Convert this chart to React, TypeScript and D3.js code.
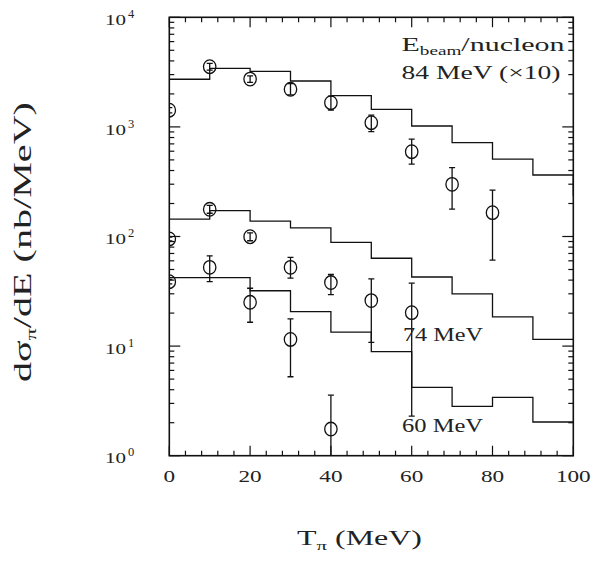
import React, { useEffect, useRef } from "react";
import * as d3 from "d3";

// histogram bin edges (MeV) and calculated curves
const binEdges = [0, 10, 20, 30, 40, 50, 60, 70, 80, 90, 100, 110];
const model84 = [2720, 3425, 3210, 2623, 1928, 1448, 1019, 718, 509, 364, 239];
const model74 = [144, 172, 138, 120, 88.5, 63.3, 42.7, 29.9, 18.5, 11.5];
const model60 = [42.1, 42.1, 32.0, 20.6, 13.4, 8.9, 4.21, 2.82, 3.41, 2.03];

// measured points with error bars
const tpi84 = [0, 10, 20, 30, 40, 50, 60, 70, 80];
const data84 = [1420, 3540, 2730, 2205, 1663, 1092, 594, 299, 165];
const lo84 = [1340, 3300, 2550, 1960, 1420, 905, 458, 178, 61];
const hi84 = [1500, 3800, 2920, 2480, 1910, 1280, 775, 425, 265];

const tpi74 = [0, 10, 20, 30, 40, 50, 60];
const data74 = [95, 177, 99.5, 52.3, 38, 26, 20.2];
const lo74 = [91, 163, 91.5, 41.7, 29.5, 10.8, 2.3];
const hi74 = [99, 192, 108, 64.5, 45, 41, 37.5];

const tpi60 = [0, 10, 20, 30, 40];
const data60 = [38.7, 52.3, 25.1, 11.5, 1.75];
const lo60 = [37, 38.7, 16.5, 5.25, 0.9];
const hi60 = [40.5, 66.6, 33.7, 17.7, 3.57];

const xTicks = [0, 20, 40, 60, 80, 100];
const yExponents = [0, 1, 2, 3, 4];

const FONT = "'Liberation Serif', serif";

const App = () => {
  const ref = useRef<SVGSVGElement>(null);

  useEffect(() => {
    const svg = d3.select(ref.current);
    svg.selectAll("*").remove();

    const left = 169.3, right = 573.3, top = 17.3, bottom = 455.7;

    const x = d3.scaleLinear().domain([0, 100]).range([left, right]);
    const y = d3.scaleLog().domain([1, 1e4]).range([bottom, top]);

    svg
      .append("defs")
      .append("clipPath")
      .attr("id", "plot-clip")
      .append("rect")
      .attr("x", left)
      .attr("y", top)
      .attr("width", right - left)
      .attr("height", bottom - top);

    // frame
    svg
      .append("rect")
      .attr("x", left)
      .attr("y", top)
      .attr("width", right - left)
      .attr("height", bottom - top)
      .attr("fill", "none")
      .attr("stroke", "#111")
      .attr("stroke-width", 1.6);

    // x ticks, top and bottom, pointing inward
    const xMinor = d3.range(0, 101, 4).filter((v) => v % 20 !== 0);
    const ticks = svg.append("g").attr("stroke", "#111").attr("stroke-width", 1.2);
    xTicks.concat(xMinor).forEach((v) => {
      const len = v % 20 === 0 ? 10 : 5;
      ticks.append("line").attr("x1", x(v)).attr("x2", x(v)).attr("y1", bottom).attr("y2", bottom - len);
      ticks.append("line").attr("x1", x(v)).attr("x2", x(v)).attr("y1", top).attr("y2", top + len);
    });

    // y ticks, left and right
    yExponents.forEach((e) => {
      const major = Math.pow(10, e);
      ticks.append("line").attr("x1", left).attr("x2", left + 11).attr("y1", y(major)).attr("y2", y(major));
      ticks.append("line").attr("x1", right).attr("x2", right - 11).attr("y1", y(major)).attr("y2", y(major));
      if (e < 4) {
        for (let m = 2; m <= 9; m++) {
          const v = m * major;
          ticks.append("line").attr("x1", left).attr("x2", left + 5).attr("y1", y(v)).attr("y2", y(v));
          ticks.append("line").attr("x1", right).attr("x2", right - 5).attr("y1", y(v)).attr("y2", y(v));
        }
      }
    });

    // x tick labels
    xTicks.forEach((v) => {
      const s = String(v);
      svg
        .append("text")
        .attr("x", x(v))
        .attr("y", 482)
        .attr("text-anchor", "middle")
        .attr("font-family", FONT)
        .attr("font-size", 17)
        .attr("textLength", s.length * 11.6)
        .attr("lengthAdjust", "spacingAndGlyphs")
        .attr("fill", "#222")
        .text(s);
    });

    // y tick labels 10^n
    yExponents.forEach((e) => {
      const t = svg
        .append("text")
        .attr("x", 105)
        .attr("y", y(Math.pow(10, e)) + 7.7)
        .attr("font-family", FONT)
        .attr("font-size", 15)
        .attr("fill", "#222");
      t.append("tspan").text("10").attr("textLength", 21).attr("lengthAdjust", "spacingAndGlyphs");
      t.append("tspan").attr("dx", 2).attr("dy", -7).attr("font-size", 12.5).text(String(e));
    });

    // histograms
    const step = d3
      .line<[number, number]>()
      .x((d) => x(d[0]))
      .y((d) => y(d[1]))
      .curve(d3.curveStepAfter);

    const plot = svg.append("g").attr("clip-path", "url(#plot-clip)");
    [model84, model74, model60].forEach((vals) => {
      const pts: [number, number][] = vals.map((v, i) => [binEdges[i], v]);
      pts.push([binEdges[vals.length], vals[vals.length - 1]]);
      plot
        .append("path")
        .attr("d", step(pts))
        .attr("fill", "none")
        .attr("stroke", "#111")
        .attr("stroke-width", 1.3);
    });

    // data points
    const series = [
      { t: tpi84, v: data84, lo: lo84, hi: hi84 },
      { t: tpi74, v: data74, lo: lo74, hi: hi74 },
      { t: tpi60, v: data60, lo: lo60, hi: hi60 },
    ];
    series.forEach((s) => {
      s.t.forEach((tv, i) => {
        const cx = x(tv);
        const g = plot.append("g").attr("stroke", "#111").attr("fill", "none").attr("stroke-width", 1.3);
        g.append("line").attr("x1", cx).attr("x2", cx).attr("y1", y(s.lo[i])).attr("y2", y(s.hi[i]));
        g.append("line").attr("x1", cx - 3).attr("x2", cx + 3).attr("y1", y(s.lo[i])).attr("y2", y(s.lo[i]));
        g.append("line").attr("x1", cx - 3).attr("x2", cx + 3).attr("y1", y(s.hi[i])).attr("y2", y(s.hi[i]));
        g.append("ellipse").attr("cx", cx).attr("cy", y(s.v[i])).attr("rx", 6.2).attr("ry", 6.8);
      });
    });

    // annotations, stretched to the widths of the original lettering
    const legend = svg
      .append("text")
      .attr("x", 401.5)
      .attr("y", 50.7)
      .attr("font-family", FONT)
      .attr("font-size", 19.5)
      .attr("fill", "#222");
    legend.append("tspan").text("E");
    legend.append("tspan").attr("dy", 4).attr("font-size", 12.5).text("beam");
    legend.append("tspan").attr("dy", -4).text("/nucleon");
    legend.attr("textLength", 163).attr("lengthAdjust", "spacingAndGlyphs");

    const labels = [
      { s: "84 MeV (\u00d710)", x: 401.5, y: 79.3, w: 159 },
      { s: "74 MeV", x: 403, y: 341, w: 80 },
      { s: "60 MeV", x: 402, y: 432, w: 81 },
    ];
    labels.forEach((l) => {
      svg
        .append("text")
        .attr("x", l.x)
        .attr("y", l.y)
        .attr("font-family", FONT)
        .attr("font-size", 19.5)
        .attr("textLength", l.w)
        .attr("lengthAdjust", "spacingAndGlyphs")
        .attr("fill", "#222")
        .text(l.s);
    });

    // axis titles
    const xt = svg
      .append("text")
      .attr("x", 297)
      .attr("y", 545)
      .attr("font-family", FONT)
      .attr("font-size", 20)
      .attr("fill", "#222");
    xt.append("tspan").text("T");
    xt.append("tspan").attr("dy", 5).attr("font-size", 13).text("\u03c0");
    xt.append("tspan").attr("dy", -5).text(" (MeV)");
    xt.attr("textLength", 125).attr("lengthAdjust", "spacingAndGlyphs");

    const yt = svg
      .append("text")
      .attr("transform", "translate(31,382) rotate(-90)")
      .attr("font-family", FONT)
      .attr("font-size", 25)
      .attr("fill", "#222");
    yt.append("tspan").text("d\u03c3");
    yt.append("tspan").attr("dy", 5).attr("font-size", 15).text("\u03c0");
    yt.append("tspan").attr("dy", -5).text("/dE (nb/MeV)");
    yt.attr("textLength", 280).attr("lengthAdjust", "spacingAndGlyphs");
  }, []);

  return (
    <svg
      ref={ref}
      width={594}
      height={567}
      style={{ position: "absolute", left: 0, top: 0, background: "#fff" }}
    />
  );
};

export default App;
